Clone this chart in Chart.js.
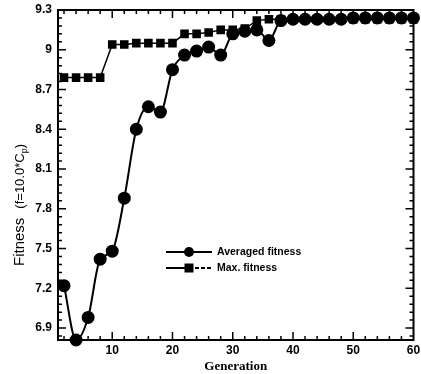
<!DOCTYPE html>
<html lang="en">
<head>
<meta charset="UTF-8">
<title>Fitness vs Generation</title>
<script src="https://cdn.jsdelivr.net/npm/chart.js"></script>
<style>
  html, body { margin: 0; padding: 0; background: #fff; }
  #wrap { width: 421px; height: 374px; }
</style>
</head>
<body>
<div id="wrap"><canvas id="fitChart" width="421" height="374"></canvas></div>
<script>
// data
const generations = [2, 4, 6, 8, 10, 12, 14, 16, 18, 20, 22, 24, 26, 28, 30,
                     32, 34, 36, 38, 40, 42, 44, 46, 48, 50, 52, 54, 56, 58, 60];
const avgFitness = [7.22, 6.81, 6.98, 7.42, 7.48, 7.88, 8.40, 8.57, 8.53, 8.85,
                    8.96, 8.99, 9.02, 8.96, 9.12, 9.14, 9.15, 9.07, 9.22, 9.23,
                    9.23, 9.23, 9.23, 9.23, 9.24, 9.24, 9.24, 9.24, 9.24, 9.24];
const maxFitness = [8.79, 8.79, 8.79, 8.79, 9.04, 9.04, 9.05, 9.05, 9.05, 9.05,
                    9.12, 9.12, 9.13, 9.15, 9.15, 9.16, 9.22, 9.23, 9.23, 9.23,
                    9.23, 9.23, 9.23, 9.23, 9.23, 9.23, 9.23, 9.23, 9.23, 9.23];
const yTickValues = [6.9, 7.2, 7.5, 7.8, 8.1, 8.4, 8.7, 9, 9.3];
const xTickValues = [10, 20, 30, 40, 50, 60];
const seriesNames = ['Averaged fitness', 'Max. fitness'];

const tickFont = { family: 'Liberation Sans', size: 12, weight: 'bold' };

// frame, inward ticks, legend and y title
const decorPlugin = {
  id: 'decor',
  afterDraw(chart) {
    const ctx = chart.ctx;
    const a = chart.chartArea;
    const xs = chart.scales.x, ys = chart.scales.y;
    ctx.save();
    ctx.strokeStyle = '#000';
    ctx.lineWidth = 2;
    ctx.strokeRect(a.left, a.top, a.right - a.left, a.bottom - a.top);

    ctx.lineWidth = 1.5;
    ctx.beginPath();
    // x ticks every 2 generations, major every 10
    for (let g = 2; g < 60; g += 2) {
      const px = xs.getPixelForValue(g);
      const len = g % 10 === 0 ? 8 : 4;
      ctx.moveTo(px, a.bottom); ctx.lineTo(px, a.bottom - len);
      ctx.moveTo(px, a.top); ctx.lineTo(px, a.top + len);
    }
    // y ticks every 0.06, major every 0.3
    for (let i = 0; i <= 40; i++) {
      const v = 6.84 + i * 0.06;
      if (v > 9.3) break;
      const py = ys.getPixelForValue(v);
      const major = Math.abs(((v - 6.9) / 0.3) - Math.round((v - 6.9) / 0.3)) < 0.01;
      const len = major ? 8 : 4;
      ctx.moveTo(a.left, py); ctx.lineTo(a.left + len, py);
      ctx.moveTo(a.right, py); ctx.lineTo(a.right - len, py);
    }
    ctx.stroke();

    // legend
    const lx0 = 166, lx1 = 212, tx = 217;
    const rows = [{ y: 252, style: 'circle' }, { y: 268, style: 'rect' }];
    ctx.font = 'bold 10.5px "Liberation Sans"';
    ctx.textBaseline = 'middle';
    ctx.fillStyle = '#000';
    rows.forEach((r, i) => {
      ctx.lineWidth = 2;
      ctx.setLineDash([]);
      ctx.beginPath();
      ctx.moveTo(lx0, r.y); ctx.lineTo(189, r.y);
      ctx.stroke();
      if (r.style === 'rect') ctx.setLineDash([4, 2]);
      ctx.beginPath();
      ctx.moveTo(189, r.y); ctx.lineTo(lx1, r.y);
      ctx.stroke();
      ctx.setLineDash([]);
      const mx = 189;
      ctx.beginPath();
      if (r.style === 'circle') {
        ctx.arc(mx, r.y, 5, 0, Math.PI * 2);
      } else {
        ctx.rect(mx - 4.5, r.y - 4.5, 9, 9);
      }
      ctx.fill();
      ctx.fillText(seriesNames[i], tx, r.y);
    });

    // y axis title
    ctx.translate(19, 266);
    ctx.rotate(-Math.PI / 2);
    ctx.textBaseline = 'alphabetic';
    ctx.textAlign = 'left';
    ctx.font = '15px "Liberation Sans"';
    ctx.fillText('Fitness', 0, 5);
    let x = ctx.measureText('Fitness').width + 9;
    ctx.font = '13px "Liberation Sans"';
    ctx.fillText('(f=10.0*C', x, 5);
    x += ctx.measureText('(f=10.0*C').width;
    ctx.font = '9px "Liberation Sans"';
    ctx.fillText('p', x, 8);
    x += ctx.measureText('p').width;
    ctx.font = '13px "Liberation Sans"';
    ctx.fillText(')', x, 5);
    ctx.restore();
  }
};

new Chart(document.getElementById('fitChart'), {
  type: 'line',
  data: {
    datasets: [
      {
        label: seriesNames[0],
        data: generations.map((g, i) => ({ x: g, y: avgFitness[i] })),
        borderColor: '#000',
        backgroundColor: '#000',
        borderWidth: 2,
        pointStyle: 'circle',
        pointRadius: 5.5,
        cubicInterpolationMode: 'monotone',
        clip: false
      },
      {
        label: seriesNames[1],
        data: generations.map((g, i) => ({ x: g, y: maxFitness[i] })),
        borderColor: '#000',
        backgroundColor: '#000',
        borderWidth: 1.5,
        pointStyle: 'rect',
        pointRadius: 5,
        tension: 0,
        clip: false
      }
    ]
  },
  options: {
    responsive: false,
    animation: false,
    events: [],
    layout: { padding: { left: 0, right: 4, top: 10, bottom: 0 } },
    plugins: { legend: { display: false }, tooltip: { enabled: false } },
    scales: {
      x: {
        type: 'linear',
        min: 1,
        max: 60,
        grid: { display: false, drawTicks: false },
        border: { display: false },
        afterBuildTicks: s => { s.ticks = xTickValues.map(v => ({ value: v })); },
        afterFit: s => { s.height = 34; s.paddingLeft = 0; s.paddingRight = 0; },
        ticks: { color: '#000', font: tickFont, padding: 3, maxRotation: 0, autoSkip: false },
        title: {
          display: true,
          text: 'Generation',
          color: '#000',
          font: { family: 'Liberation Serif', size: 13, weight: 'bold' },
          padding: { top: 0, bottom: 0 }
        }
      },
      y: {
        type: 'linear',
        min: 6.81,
        max: 9.3,
        grid: { display: false, drawTicks: false },
        border: { display: false },
        afterBuildTicks: s => { s.ticks = yTickValues.map(v => ({ value: v })); },
        afterFit: s => { s.width = 58; s.paddingTop = 0; s.paddingBottom = 0; },
        ticks: { color: '#000', font: tickFont, padding: 6, callback: v => String(v) }
      }
    }
  },
  plugins: [decorPlugin]
});
</script>
</body>
</html>
